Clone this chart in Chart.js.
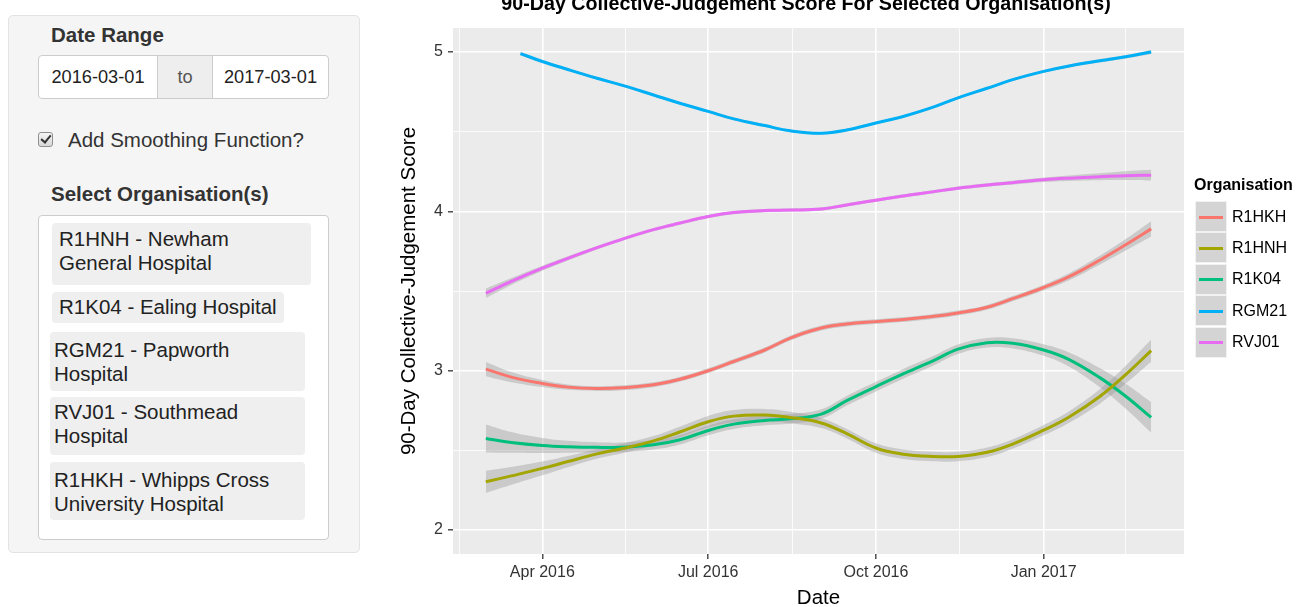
<!DOCTYPE html>
<html>
<head>
<meta charset="utf-8">
<script src="https://cdn.jsdelivr.net/npm/chart.js@4/dist/chart.umd.min.js"></script>
<style>
  html, body { margin:0; padding:0; }
  body { width:1304px; height:607px; overflow:hidden; background:#fff; position:relative;
         font-family:"Liberation Sans", Arial, Helvetica, sans-serif; color:#333; }
  .abs { position:absolute; box-sizing:border-box; }
  #well { left:8px; top:15px; width:352px; height:538px; background:#f5f5f5; border:1px solid #e3e3e3; border-radius:5px; }
  .lbl { font-weight:bold; font-size:20.5px; line-height:24px; color:#333; white-space:nowrap; }
  .inp { top:55px; height:44px; font-size:18.2px; line-height:42px; text-align:center; color:#222; background:#fff; border:1px solid #ccc; }
  .sel { left:38px; top:215px; width:291px; height:325px; background:#fff; border:1px solid #ccc; border-radius:4px; }
  .item { background:#efefef; border-radius:4px; font-size:20.5px; line-height:23.5px; color:#222; white-space:nowrap; }
  #chartWrap { position:absolute; left:380px; top:-10px; width:852px; height:617px; }
  .lgTitle { left:1194px; top:175px; font-weight:bold; font-size:16px; line-height:20px; color:#000; white-space:nowrap; }
  .key { left:1195px; width:32px; height:31px; background:#d4d4d4; border:1px solid #f2f2f2; }
  .key span { position:absolute; left:3px; right:3px; top:13.5px; height:3.2px; }
  .lgLab { left:1232px; font-size:16px; line-height:20px; color:#000; white-space:nowrap; }
</style>
</head>
<body>
<!-- Sidebar -->
<div id="well" class="abs"></div>
<div class="abs lbl" style="left:51px;top:23px;">Date Range</div>
<div class="abs inp" style="left:38px;width:120px;border-radius:4px 0 0 4px;">2016-03-01</div>
<div class="abs inp" style="left:157px;width:56px;background:#eee;color:#555;">to</div>
<div class="abs inp" style="left:212px;width:117px;border-radius:0 4px 4px 0;">2017-03-01</div>
<div class="abs" style="left:38px;top:132px;width:15px;height:15px;border:1px solid #8f8f8f;border-radius:3px;background:linear-gradient(#f6f6f6,#d8d8d8);">
  <div style="position:absolute;left:4px;top:0px;width:4px;height:8px;border:solid #333;border-width:0 2.5px 2.5px 0;transform:rotate(40deg);"></div>
</div>
<div class="abs" style="left:68px;top:128px;font-size:20.5px;line-height:24px;color:#333;white-space:nowrap;">Add Smoothing Function?</div>
<div class="abs lbl" style="left:51px;top:182px;">Select Organisation(s)</div>
<div class="abs sel"></div>
<div class="abs item" style="left:52px;top:223px;width:259px;height:62px;padding:4px 0 0 7px;">R1HNH - Newham<br>General Hospital</div>
<div class="abs item" style="left:52px;top:292px;width:232px;height:31px;padding:3px 0 0 7px;">R1K04 - Ealing Hospital</div>
<div class="abs item" style="left:50px;top:332px;width:255px;height:59px;padding:6px 0 0 4px;">RGM21 - Papworth<br>Hospital</div>
<div class="abs item" style="left:50px;top:397px;width:255px;height:58px;padding:3px 0 0 4px;">RVJ01 - Southmead<br>Hospital</div>
<div class="abs item" style="left:50px;top:462px;width:255px;height:58px;padding:6px 0 0 4px;">R1HKH - Whipps Cross<br>University Hospital</div>

<div id="chartWrap"><canvas id="c"></canvas></div>
<div id="legend"></div>

<script>
// ---------------- DATA ----------------
const dates = ["2016-03-01","2016-03-15","2016-04-01","2016-04-15","2016-05-01","2016-05-15","2016-06-01","2016-06-15",
  "2016-07-01","2016-07-15","2016-08-01","2016-08-15","2016-09-01","2016-09-15","2016-10-01","2016-10-15",
  "2016-11-01","2016-11-15","2016-12-01","2016-12-15","2017-01-01","2017-01-15","2017-02-01","2017-02-15","2017-03-01"];
const rgm21Dates = ["2016-03-20","2016-04-01","2016-04-15","2016-05-01","2016-05-15","2016-06-01","2016-06-15",
  "2016-07-01","2016-07-15","2016-08-01","2016-08-15","2016-09-01","2016-09-15","2016-10-01","2016-10-15",
  "2016-11-01","2016-11-15","2016-12-01","2016-12-15","2017-01-01","2017-01-15","2017-02-01","2017-02-15","2017-03-01"];

const organisations = ["R1HKH","R1HNH","R1K04","RGM21","RVJ01"];

const r1hkh = [3.01,2.96,2.92,2.897,2.888,2.893,2.912,2.945,3.0,3.058,3.13,3.205,3.268,3.293,3.308,3.32,3.34,3.362,3.398,3.452,3.522,3.59,3.695,3.79,3.89];
const r1hkhSe = [0.045,0.032,0.022,0.017,0.015,0.015,0.015,0.015,0.015,0.015,0.015,0.015,0.015,0.015,0.015,0.015,0.015,0.015,0.015,0.016,0.018,0.022,0.028,0.036,0.048];

const r1hnh = [2.303,2.34,2.387,2.43,2.478,2.512,2.56,2.614,2.68,2.715,2.722,2.707,2.672,2.605,2.515,2.478,2.462,2.462,2.488,2.54,2.627,2.71,2.84,2.975,3.126];
const r1hnhSe = [0.07,0.056,0.043,0.035,0.03,0.03,0.03,0.033,0.036,0.038,0.038,0.036,0.032,0.03,0.03,0.03,0.03,0.03,0.03,0.03,0.032,0.036,0.045,0.056,0.07];

const r1k04 = [2.575,2.55,2.531,2.523,2.519,2.52,2.535,2.565,2.625,2.665,2.688,2.698,2.728,2.812,2.90,2.975,3.06,3.135,3.176,3.172,3.13,3.07,2.955,2.84,2.707];
const r1k04Se = [0.088,0.065,0.047,0.037,0.032,0.03,0.03,0.03,0.03,0.03,0.03,0.03,0.03,0.03,0.03,0.03,0.03,0.03,0.03,0.032,0.036,0.045,0.06,0.078,0.095];

const rgm21 = [4.99,4.94,4.89,4.835,4.79,4.73,4.68,4.627,4.58,4.538,4.505,4.49,4.51,4.554,4.592,4.652,4.712,4.772,4.826,4.878,4.912,4.945,4.97,5.0];
const rgm21Se = [0.012,0.01,0.009,0.008,0.008,0.008,0.008,0.008,0.008,0.008,0.008,0.008,0.008,0.008,0.008,0.008,0.008,0.008,0.008,0.008,0.009,0.01,0.011,0.013];

const rvj01 = [3.486,3.56,3.643,3.705,3.772,3.826,3.885,3.925,3.967,3.992,4.005,4.008,4.014,4.04,4.07,4.095,4.122,4.145,4.165,4.18,4.198,4.208,4.217,4.224,4.227];
const rvj01Se = [0.03,0.022,0.016,0.013,0.011,0.01,0.01,0.01,0.01,0.01,0.01,0.01,0.01,0.01,0.01,0.01,0.01,0.01,0.011,0.012,0.014,0.017,0.022,0.028,0.034];

const seriesColors = ["#F8766D","#A3A500","#00BF7D","#00B0F6","#E76BF3"];

const xTickDates = ["2016-04-01","2016-07-01","2016-10-01","2017-01-01"];
const xTickLabels = ["Apr 2016","Jul 2016","Oct 2016","Jan 2017"];
const xMinorEdges = ["2016-01-01","2017-04-01"];
const xRange = ["2016-02-12","2017-03-19"];
const yTickValues = [2,3,4,5];
const yRange = [1.85,5.15];

const chartTitle = "90-Day Collective-Judgement Score For Selected Organisation(s)";
const xTitle = "Date";
const yTitle = "90-Day Collective-Judgement Score";
const legendTitle = "Organisation";

// ---------------- BUILD ----------------
const day = s => { const [y,m,d] = s.split('-').map(Number); return Date.UTC(y,m-1,d)/864e5; };

const seriesList = [
  {name:organisations[0], d:dates, v:r1hkh, se:r1hkhSe},
  {name:organisations[1], d:dates, v:r1hnh, se:r1hnhSe},
  {name:organisations[2], d:dates, v:r1k04, se:r1k04Se},
  {name:organisations[3], d:rgm21Dates, v:rgm21, se:rgm21Se},
  {name:organisations[4], d:dates, v:rvj01, se:rvj01Se}
];

const TENSION = 0.4;
const datasets = [];
seriesList.forEach((s) => {
  const lo = s.d.map((d,i)=>({x:day(d), y:s.v[i]-s.se[i]}));
  const hi = s.d.map((d,i)=>({x:day(d), y:s.v[i]+s.se[i]}));
  const loIndex = datasets.length;
  datasets.push({label:s.name+' lo', data:lo, borderWidth:0, pointRadius:0, fill:false,
    tension:TENSION, order:2, borderColor:'rgba(0,0,0,0)'});
  datasets.push({label:s.name+' hi', data:hi, borderWidth:0, pointRadius:0, fill:{target:loIndex},
    backgroundColor:'rgba(153,153,153,0.4)', tension:TENSION, order:2, borderColor:'rgba(0,0,0,0)'});
});
seriesList.forEach((s,k) => {
  datasets.push({label:s.name, data:s.d.map((d,i)=>({x:day(d), y:s.v[i]})),
    borderColor:seriesColors[k], borderWidth:3, pointRadius:0, fill:false,
    tension:TENSION, order:1});
});

// ticks
const xMajorVals = xTickDates.map(day);
const xEdges = [day(xMinorEdges[0]), ...xMajorVals, day(xMinorEdges[1])];
const xTicks = [];
for (let i=0;i<xEdges.length;i++){
  if (i>0) xTicks.push({value:(xEdges[i-1]+xEdges[i])/2, isMajor:false});
  if (i>0 && i<xEdges.length-1) xTicks.push({value:xEdges[i], isMajor:true});
}
const yTicks = [];
for (let i=0;i<yTickValues.length;i++){
  yTicks.push({value:yTickValues[i], isMajor:true});
  if (i<yTickValues.length-1) yTicks.push({value:(yTickValues[i]+yTickValues[i+1])/2, isMajor:false});
}

const panelBg = {
  id:'panelBg',
  beforeDraw(chart){
    const {ctx, chartArea:a} = chart;
    ctx.save(); ctx.fillStyle = '#EBEBEB'; ctx.fillRect(a.left, a.top, a.width, a.height); ctx.restore();
  }
};

Chart.defaults.font.family = '"Liberation Sans", Arial, Helvetica, sans-serif';

const isMaj = c => c.tick && c.tick.isMajor;

new Chart(document.getElementById('c'), {
  type:'line',
  data:{datasets},
  options:{
    responsive:true, maintainAspectRatio:false, animation:false,
    layout:{padding:0},
    plugins:{
      legend:{display:false},
      tooltip:{enabled:false},
      title:{display:true, text:chartTitle, color:'#000',
        font:{size:19.7, weight:'bold', lineHeight:1.2}, padding:{top:3, bottom:11.4}}
    },
    scales:{
      x:{type:'linear', min:day(xRange[0]), max:day(xRange[1]),
        afterBuildTicks:s=>{ s.ticks = xTicks.map(t=>({value:t.value, isMajor:t.isMajor})); },
        afterFit:s=>{ s.height = 53; },
        ticks:{autoSkip:false, maxRotation:0, minRotation:0, padding:4, color:'#333', font:{size:16},
          callback:(v)=>{ const i = xMajorVals.indexOf(v); return i>=0 ? xTickLabels[i] : ''; }},
        grid:{color:'#ffffff', lineWidth:c=>isMaj(c)?1.6:0.8, tickLength:5,
          tickColor:c=>isMaj(c)?'#333':'rgba(0,0,0,0)', tickWidth:1.3},
        border:{display:false},
        title:{display:true, text:xTitle, color:'#000', font:{size:20.5, lineHeight:0.88}, padding:0}
      },
      y:{type:'linear', min:yRange[0], max:yRange[1],
        afterBuildTicks:s=>{ s.ticks = yTicks.map(t=>({value:t.value, isMajor:t.isMajor})); },
        afterFit:s=>{ s.width = 73; },
        ticks:{autoSkip:false, padding:5, color:'#333', font:{size:16},
          callback:(v)=> yTickValues.includes(v) ? String(v) : ''},
        grid:{color:'#ffffff', lineWidth:c=>isMaj(c)?1.6:0.8, tickLength:5,
          tickColor:c=>isMaj(c)?'#333':'rgba(0,0,0,0)', tickWidth:1.3},
        border:{display:false},
        title:{display:true, text:yTitle, color:'#000', font:{size:20.5, lineHeight:1.2}, padding:{top:17.5, bottom:0}}
      },
      pad:{type:'linear', position:'right', display:true,
        afterFit:s=>{ s.width = 48; },
        ticks:{display:false}, grid:{display:false, drawTicks:false}, border:{display:false}}
    }
  },
  plugins:[panelBg]
});

// HTML legend (ggplot style)
const lg = document.getElementById('legend');
const t = document.createElement('div');
t.className = 'abs lgTitle'; t.textContent = legendTitle; lg.appendChild(t);
organisations.forEach((name,i)=>{
  const top = 201 + i*31.4;
  const k = document.createElement('div');
  k.className = 'abs key'; k.style.top = top+'px';
  const sp = document.createElement('span'); sp.style.background = seriesColors[i];
  k.appendChild(sp); lg.appendChild(k);
  const l = document.createElement('div');
  l.className = 'abs lgLab'; l.style.top = (top+5.5)+'px'; l.textContent = name;
  lg.appendChild(l);
});
</script>
</body>
</html>
